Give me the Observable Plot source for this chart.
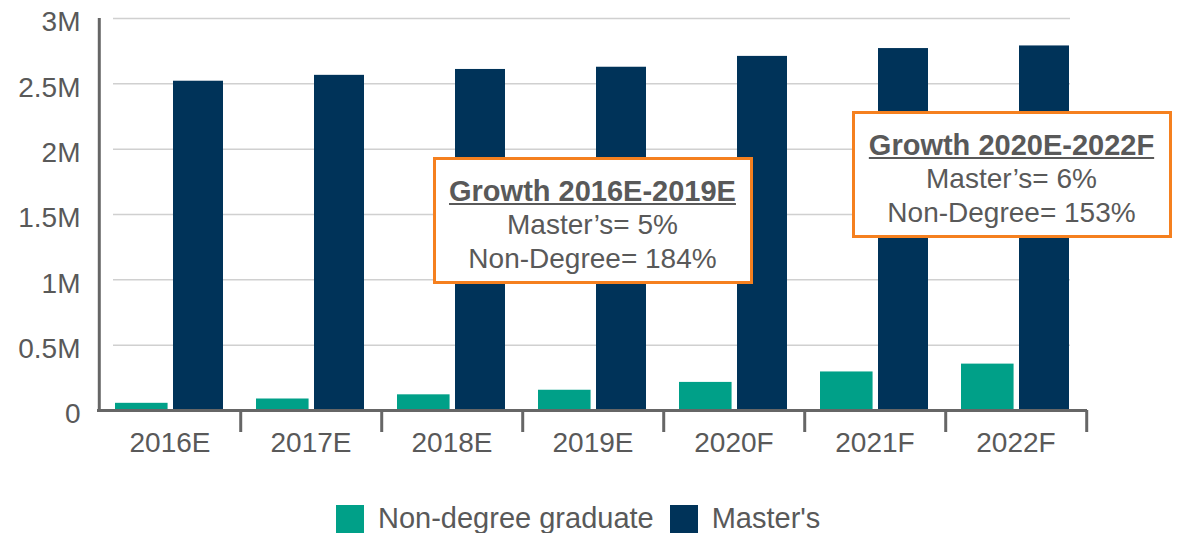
<!DOCTYPE html>
<html>
<head>
<meta charset="utf-8">
<script src="https://cdn.jsdelivr.net/npm/d3@7"></script>
<script src="https://cdn.jsdelivr.net/npm/@observablehq/plot@0.6"></script>
<style>
  body { margin: 0; background: #fff; font-family: "Liberation Sans", Arial, sans-serif; }
  #wrap { position: relative; width: 1179px; height: 533px; overflow: hidden; }
  .box { position: absolute; box-sizing: border-box; border: 3px solid #f5801f; background: #fff;
         color: #595959; text-align: center; font-size: 28px; line-height: 34px; padding-top: 14px; }
  .box .t { font-weight: bold; font-size: 29px; text-decoration: underline; text-decoration-thickness: 2px; text-underline-offset: 2px; }
  #legend { position: absolute; display: flex; align-items: center; color: #595959; font-size: 29px; }
  #legend .item { display: flex; align-items: center; gap: 14px; margin-right: 16px; }
  #legend .sw { width: 28px; height: 28px; }
</style>
</head>
<body>
<div id="wrap"></div>
<script>
// ---- data ----
const years = ["2016E", "2017E", "2018E", "2019E", "2020F", "2021F", "2022F"];
const nonDegree = [0.055, 0.088, 0.12, 0.155, 0.215, 0.295, 0.355]; // millions
const masters = [2.52, 2.565, 2.61, 2.627, 2.71, 2.77, 2.79];       // millions
const seriesNames = ["Non-degree graduate", "Master's"];
const yTicks = [0, 0.5, 1, 1.5, 2, 2.5, 3];
const annoTitles = ["Growth 2016E-2019E", "Growth 2020E-2022F"];
const annoMasters = ["Master’s= 5%", "Master’s= 6%"];
const annoNonDegree = ["Non-Degree= 184%", "Non-Degree= 153%"];

// ---- layout / style ----
const W = 1179, H = 480, mL = 97, mR = 92, mT = 18, mB = H - 410;
const bw = (W - mL - mR) / years.length;
const colors = ["#00a088", "#003359"];
const axisGrey = "#666666", textGrey = "#595959";
const annoAnchors = [{year: "2019E", value: 1.45, dx: 0}, {year: "2022F", value: 1.8, dx: -4}];
const boxW = 320, boxH = 127;

const table = years.flatMap((yr, i) => [
  {year: yr, series: seriesNames[0], value: nonDegree[i]},
  {year: yr, series: seriesNames[1], value: masters[i]}
]);

const plot = Plot.plot({
  width: W, height: H,
  marginLeft: mL, marginRight: mR, marginTop: mT, marginBottom: mB,
  style: {fontFamily: '"Liberation Sans", Arial, sans-serif', fontSize: "28px", color: textGrey, background: "#fff"},
  x: {domain: years, padding: 0, axis: null, label: null},
  y: {domain: [0, 3], axis: null, label: null},
  color: {domain: seriesNames, range: colors},
  marks: [
    Plot.ruleY(yTicks.filter(d => d > 0), {stroke: "#d0d0d0", strokeWidth: 1.5, insetLeft: 16, insetRight: 17}),
    Plot.barY(table.filter(d => d.series === seriesNames[0]), {x: "year", y: "value", fill: "series", insetLeft: 16, insetRight: bw - 16 - 53}),
    Plot.barY(table.filter(d => d.series === seriesNames[1]), {x: "year", y: "value", fill: "series", insetLeft: 74, insetRight: 17}),
    Plot.ruleY([0], {stroke: axisGrey, strokeWidth: 3}),
    Plot.ruleX([years[0]], {x: d => d, dx: -bw / 2, y1: 0, y2: 3, stroke: axisGrey, strokeWidth: 3}),
    Plot.axisX({tickSize: 22, tickFormat: () => "", label: null, dx: bw / 2, stroke: axisGrey, strokeWidth: 3}),
    Plot.axisX({tickSize: 0, tickPadding: 22, label: null, fontSize: 28, fill: textGrey}),
    Plot.axisY({ticks: yTicks, tickSize: 0, tickPadding: 17, dy: 4, label: null, fontSize: 28, fill: textGrey,
                tickFormat: d => d === 0 ? "0" : d + "M"})
  ]
});

const wrap = document.getElementById("wrap");
wrap.appendChild(plot);

// annotation boxes positioned from the plot's scales
const xs = plot.scale("x"), ys = plot.scale("y");
annoAnchors.forEach((a, i) => {
  const cx = xs.apply(a.year) + xs.bandwidth / 2 + a.dx;
  const cy = ys.apply(a.value);
  const box = document.createElement("div");
  box.className = "box";
  box.style.left = (cx - boxW / 2) + "px";
  box.style.top = (cy - boxH / 2) + "px";
  box.style.width = boxW + "px";
  box.style.height = boxH + "px";
  const t = document.createElement("div"); t.className = "t"; t.textContent = annoTitles[i];
  const l1 = document.createElement("div"); l1.textContent = annoMasters[i];
  const l2 = document.createElement("div"); l2.textContent = annoNonDegree[i];
  box.append(t, l1, l2);
  wrap.appendChild(box);
});

// legend below the svg
const legend = document.createElement("div");
legend.id = "legend";
legend.style.left = "336px";
legend.style.top = "502px";
seriesNames.forEach((name, i) => {
  const item = document.createElement("div"); item.className = "item";
  const sw = document.createElement("div"); sw.className = "sw"; sw.style.background = colors[i];
  const lab = document.createElement("span"); lab.textContent = name;
  item.append(sw, lab);
  legend.appendChild(item);
});
wrap.appendChild(legend);
</script>
</body>
</html>
